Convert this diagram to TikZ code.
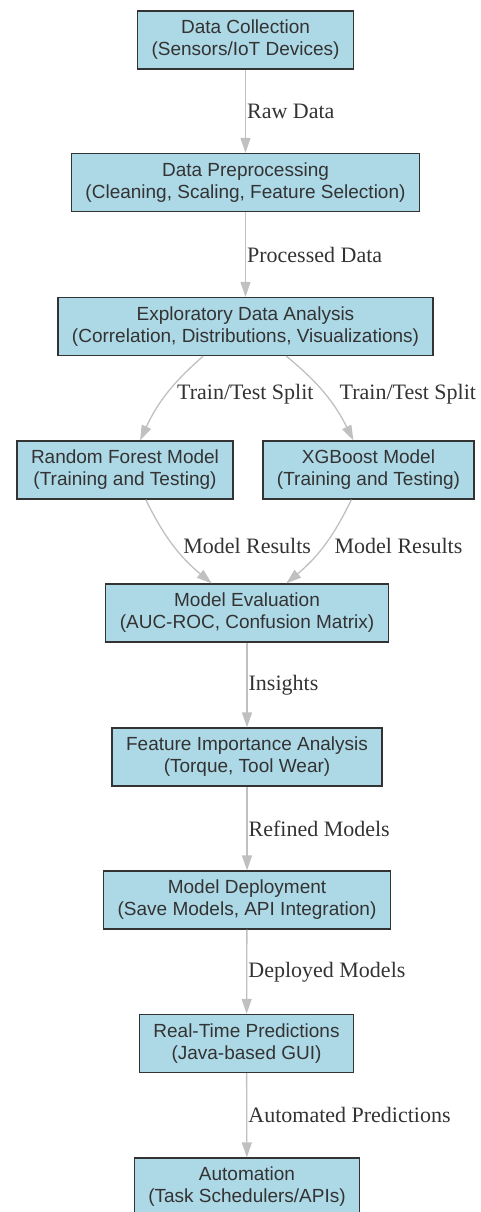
\documentclass[tikz,border=0pt]{standalone}
\usepackage{fontspec}
\setmainfont{Liberation Serif}
\newfontfamily\boxfont{Liberation Sans}
\usetikzlibrary{arrows.meta}
\definecolor{boxblue}{HTML}{ADD8E6}
\definecolor{edgegray}{HTML}{C0C0C0}
\definecolor{inkgray}{HTML}{333333}
\begin{document}
\begin{tikzpicture}[auto, x=1pt, y=1pt,
    stage/.style={draw=inkgray, line width=1.3pt, fill=boxblue, text=inkgray,
      align=center, inner xsep=14pt, inner ysep=6pt, minimum height=58pt,
      font=\boxfont\fontsize{19}{22}\selectfont},
    flow/.style={draw=edgegray, line width=1.3pt,
      -{Triangle[length=15pt, width=10pt, color=edgegray]}},
    lbl/.style={inner sep=1pt, text=inkgray, font=\fontsize{22}{24}\selectfont}]
  \useasboundingbox (0, 0) rectangle (481, -1212);

  \node[stage] (collect) at (245.5, -40) {Data Collection\\(Sensors/IoT Devices)};
  \node[stage] (prep) at (245.5, -182.5) {Data Preprocessing\\(Cleaning, Scaling, Feature Selection)};
  \node[stage] (eda) at (245.5, -326.5) {Exploratory Data Analysis\\(Correlation, Distributions, Visualizations)};

  \node[stage] (rf) at (125, -470) {Random Forest Model\\(Training and Testing)};
  \node[stage] (xgb) at (368.5, -470) {XGBoost Model\\(Training and Testing)};

  \node[stage] (eval) at (247, -613) {Model Evaluation\\(AUC-ROC, Confusion Matrix)};
  \node[stage] (featimp) at (247, -757) {Feature Importance Analysis\\(Torque, Tool Wear)};
  \node[stage] (deploy) at (247, -900) {Model Deployment\\(Save Models, API Integration)};
  \node[stage] (predict) at (246.5, -1043.5) {Real-Time Predictions\\(Java-based GUI)};
  \node[stage] (automation) at (247, -1187) {Automation\\(Task Schedulers/APIs)};

  \draw[flow] (collect) to node[lbl]{Raw Data}(prep);
  \draw[flow] (prep) to node[lbl]{Processed Data}(eda);

  % split into the two models
  \draw[flow] (eda.215) to[bend right=12] node[lbl, right=9pt]{Train/Test Split}(rf.63);
  \draw[flow] (eda.324) to[bend left=12] node[lbl, right=13pt]{Train/Test Split}(xgb.117);
  \draw[flow] (rf.305) to[bend right=12] node[lbl, right=8pt]{Model Results}(eval.140);
  \draw[flow] (xgb.240) to[bend left=12] node[lbl, right=9pt]{Model Results}(eval.37);

  \draw[flow] (eval) to node[lbl]{Insights}(featimp);
  \draw[flow] (featimp) to node[lbl]{Refined Models}(deploy);
  \draw[flow] (deploy) to node[lbl]{Deployed Models}(predict);
  \draw[flow] (predict) to node[lbl]{Automated Predictions}(automation);
\end{tikzpicture}
\end{document}
